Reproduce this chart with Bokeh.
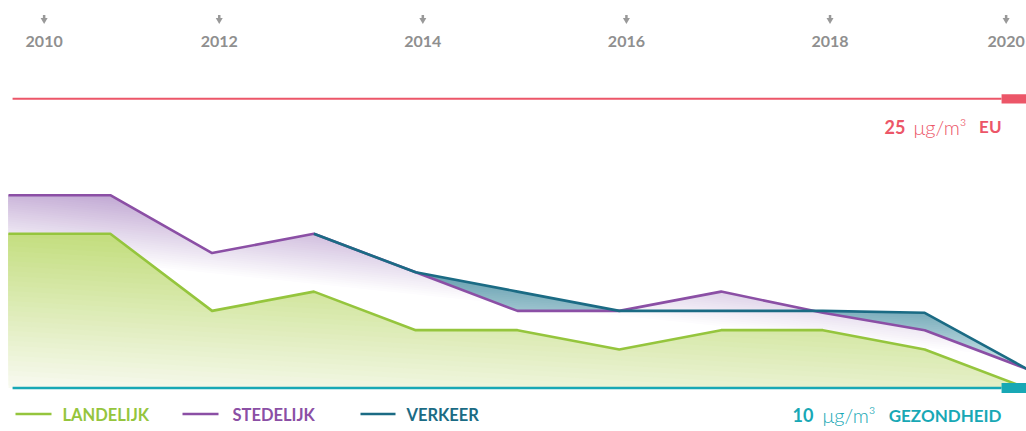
import numpy as np
from bokeh.plotting import figure
from bokeh.models import Range1d
from bokeh.embed import file_html
from bokeh.resources import INLINE
from bokeh.core.properties import value

# ---------------- data ----------------
years = [2010, 2011, 2012, 2013, 2014, 2015, 2016, 2017, 2018, 2019, 2020]
landelijk = [18, 18, 14, 15, 13, 13, 12, 13, 13, 12, 10]
stedelijk = [20, 20, 17, 18, 16, 14, 14, 15, 13.9, 13, 11]
verkeer = [np.nan, np.nan, np.nan, 18, 16, 15, 14, 14, 14, 13.9, 11]

tick_years = [2010, 2012, 2014, 2016, 2018, 2020]
tick_labels = ["2010", "2012", "2014", "2016", "2018", "2020"]
series_names = ["LANDELIJK", "STEDELIJK", "VERKEER"]

eu_limit = 25
who_limit = 10
eu_value_text = "25"
who_value_text = "10"
unit_text = "μg/m³"
eu_name = "EU"
who_name = "GEZONDHEID"

# ---------------- style ----------------
GREEN = "#95c53d"
PURPLE = "#8b4fa5"
VERK = "#1b6b84"
RED = "#ec5668"
TEAL = "#18a8b5"
GREY = "#8f8f8f"
FONT = value("Lato")
LIGHT = value("Lato Light")

W, H = 1026, 431
p = figure(width=W, height=H, x_range=Range1d(2009.9214, 2020), y_range=Range1d(7.744, 30.098),
           x_axis_type=None, y_axis_type=None, toolbar_location=None,
           output_backend="svg", min_border=0, outline_line_color=None,
           background_fill_color="white", border_fill_color="white")
p.extra_x_ranges = {"px": Range1d(0, W)}
p.extra_y_ranges = {"px": Range1d(H, 0)}

xd = np.union1d(np.linspace(2010, 2020, 1001), years)


def mix(c0, c1, t):
    r, g, b = (int(round(a + (bb - a) * t)) for a, bb in zip(c0, c1))
    return "#%02x%02x%02x" % (r, g, b)


def gradient_area(yv, base, slope, e_lo, e_hi, c_lo, c_hi, n=32):
    xv = np.asarray(years, float)
    yv = np.asarray(yv, float)
    m = ~np.isnan(yv)
    xv, yv = xv[m], yv[m]
    xs = xd[(xd >= xv[0]) & (xd <= xv[-1])]
    top = np.interp(xs, xv, yv)
    for k in range(n):
        t = k / (n - 1)
        if k == 0:
            low = np.full_like(xs, base)
        else:
            ek = e_lo + (e_hi - e_lo) * (k - 0.5) / (n - 1)
            lo = ek - slope * (xs - 2010)
            low = np.maximum(base, np.minimum(top, lo))
            if np.all(top - low < 1e-9):
                continue
        p.varea(x=xs, y1=low, y2=top, fill_color=mix(c_lo, c_hi, t), fill_alpha=1.0)


gradient_area(verkeer, who_limit, 0.3, 14.5, 17.5, (192, 220, 226), (92, 152, 170))
gradient_area(stedelijk, who_limit, 0.55, 17.0, 20.5, (255, 255, 255), (194, 170, 212))
gradient_area(landelijk, who_limit, 0.3, 10.0, 18.0, (248, 250, 241), (196, 222, 128))

# thresholds
line_x0 = 2010.04
line_x1 = 2019.755
p.segment(x0=[line_x0], y0=[eu_limit], x1=[line_x1], y1=[eu_limit], line_color=RED, line_width=2)
p.quad(left=[line_x1], right=[2020], bottom=[eu_limit - 0.24], top=[eu_limit + 0.24],
       fill_color=RED, line_color=None)

# data lines
p.line(years, landelijk, line_color=GREEN, line_width=2.6, line_join="round")
p.line(years, stedelijk, line_color=PURPLE, line_width=2.6, line_join="round")
p.line(years, verkeer, line_color=VERK, line_width=2.6, line_join="round")

p.segment(x0=[line_x0], y0=[who_limit], x1=[line_x1], y1=[who_limit], line_color=TEAL, line_width=2.5)
p.quad(left=[line_x1], right=[2020], bottom=[who_limit - 0.26], top=[who_limit + 0.26],
       fill_color=TEAL, line_color=None)

# top year ticks
tick_x = np.clip(np.array(tick_years, float) + 0.07, 2010.35, 2019.8)
p.segment(x0=tick_x, x1=tick_x, y0=[14.5] * len(tick_x), y1=[18] * len(tick_x),
          y_range_name="px", line_color="#999999", line_width=2.5)
p.scatter(x=tick_x, y=[19.5] * len(tick_x), y_range_name="px", marker="inverted_triangle",
          size=7, fill_color="#999999", line_color=None)
p.text(x=tick_x, y=[41] * len(tick_x), text=tick_labels, y_range_name="px",
       text_font=FONT, text_font_style="bold", text_font_size="16px", text_color=GREY,
       text_align="center", text_baseline="middle")

# legend
leg_colors = [GREEN, PURPLE, VERK]
leg_x0 = [15, 182, 360]
leg_x1 = [51, 218, 395]
leg_tx = [62, 232, 406]
p.segment(x0=leg_x0, x1=leg_x1, y0=[413.5] * 3, y1=[413.5] * 3, x_range_name="px",
          y_range_name="px", line_color=leg_colors, line_width=2.5)
p.text(x=leg_tx, y=[414.5] * 3, text=series_names, x_range_name="px", y_range_name="px",
       text_font=FONT, text_font_style="bold", text_font_size="16.5px", text_color=leg_colors,
       text_align="left", text_baseline="middle")


# limit labels
def limit_label(py, color, num, name, x_num, x_unit, x_name):
    kw = dict(x_range_name="px", y_range_name="px", text_color=color, text_align="right",
              text_baseline="middle")
    p.text(x=[x_num], y=[py], text=[num], text_font=FONT, text_font_style="bold",
           text_font_size="18px", **kw)
    p.text(x=[x_unit], y=[py], text=[unit_text], text_font=LIGHT, text_font_style="normal",
           text_font_size="20px", **kw)
    p.text(x=[x_name], y=[py], text=[name], text_font=FONT, text_font_style="bold",
           text_font_size="17px", **kw)


limit_label(126, RED, eu_value_text, eu_name, 905, 966, 1001)
limit_label(414.5, TEAL, who_value_text, who_name, 813, 875, 1001)

open("out.html", "w").write(file_html(p, INLINE))
